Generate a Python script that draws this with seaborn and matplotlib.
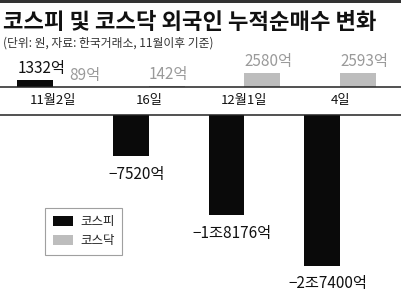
import matplotlib
matplotlib.use("Agg")
import matplotlib.pyplot as plt
import seaborn as sns
import pandas as pd
from matplotlib.patches import Rectangle

# ---- data ----
dates = ["11월2일", "16일", "12월1일", "4일"]
kospi = [1332, -7520, -18176, -27400]
kosdaq = [89, 142, 2580, 2593]
series_names = ["코스피", "코스닥"]
title = "코스피 및 코스닥 외국인 누적순매수 변화"
subtitle = "(단위: 원, 자료: 한국거래소, 11월이후 기준)"

sns.set_theme(style="white")
plt.rcParams["font.family"] = ["Noto Sans CJK KR", "DejaVu Sans"]

colors = {"코스피": "#0a0a0a", "코스닥": "#bdbdbd"}
label_colors = {"코스피": "#111111", "코스닥": "#9a9a9a"}

df = pd.DataFrame({
    "date": dates * 2,
    "value": kospi + kosdaq,
    "series": [series_names[0]] * len(dates) + [series_names[1]] * len(dates),
})


def fmt(v):
    a = abs(v)
    jo, eok = divmod(a, 10000)
    s = (f"{jo}조{eok}억" if jo else f"{eok}억")
    return ("−" if v < 0 else "") + s


W, H = 401, 291
fig = plt.figure(figsize=(W / 100, H / 100), dpi=100)

# layout (pixels from top)
xl = (-0.554, 3.636)
top_base, top_top = 87, 52
bot_base = 115
scale = 5.5 / 1000  # px per 억

ax_top = fig.add_axes([0, 1 - top_base / H, 1, (top_base - top_top) / H])
ax_bot = fig.add_axes([0, 0, 1, 1 - bot_base / H])

bar_w = 0.75
for ax in (ax_top, ax_bot):
    sns.barplot(data=df, x="date", y="value", hue="series", order=dates,
                hue_order=series_names, palette=colors, width=bar_w,
                dodge=True, saturation=1, legend=(ax is ax_bot), ax=ax,
                edgecolor="none")
    ax.set_xlim(*xl)
    ax.set_xlabel("")
    ax.set_ylabel("")
    ax.set_yticks([])
    for s in ax.spines.values():
        s.set_visible(False)

ax_top.set_ylim(0, (top_base - top_top) / scale)
ax_bot.set_ylim(-(H - bot_base) / scale, 0)

ax_top.spines["bottom"].set_visible(True)
ax_top.spines["bottom"].set_color("#222222")
ax_top.spines["bottom"].set_linewidth(1.1)
ax_bot.spines["top"].set_visible(True)
ax_bot.spines["top"].set_color("#222222")
ax_bot.spines["top"].set_linewidth(1.1)

ax_top.tick_params(axis="x", length=0, pad=5, labelsize=9.5, labelcolor="#111111")
ax_bot.set_xticks([])

# value labels
half = bar_w / 2
for i, v in enumerate(kospi):
    xc = i - half / 2
    if v > 0:
        ax_top.annotate(fmt(v), (xc - half / 2, v), xytext=(0, 2),
                        textcoords="offset points", ha="left", va="bottom",
                        fontsize=11, color=label_colors["코스피"])
    else:
        ax_bot.annotate(fmt(v), (xc, v), xytext=(4, -7),
                        textcoords="offset points", ha="center", va="top",
                        fontsize=11, color=label_colors["코스피"])

kosdaq_nudge = [12, 0, 0, 0]  # shift in points to avoid overlap
for i, v in enumerate(kosdaq):
    left = i
    ax_top.annotate(fmt(v), (left, v), xytext=(kosdaq_nudge[i], 2),
                    textcoords="offset points", ha="left", va="bottom",
                    fontsize=11, color=label_colors["코스닥"],
                    annotation_clip=False)

# legend
leg = ax_bot.legend(loc="upper left",
                    bbox_to_anchor=(45 / W, (H - 208) / (H - bot_base)),
                    borderaxespad=0, frameon=True, fancybox=False, fontsize=9,
                    handlelength=1.6, handleheight=0.9, borderpad=0.6,
                    labelspacing=0.45, handletextpad=0.6)
leg.get_frame().set_edgecolor("#888888")
leg.get_frame().set_linewidth(0.8)
for t in leg.get_texts():
    t.set_color("#222222")

# title, subtitle, top rule
fig.add_artist(Rectangle((0, 1 - 3 / H), 1, 3 / H, transform=fig.transFigure,
                         color="#333333", lw=0))
fig.text(3 / W, 1 - 29 / H, title, fontsize=16, fontweight="black",
         color="#111111", ha="left", va="baseline")
fig.text(3 / W, 1 - 47 / H, subtitle, fontsize=8.5, color="#333333",
         ha="left", va="baseline")

fig.savefig("out.png", dpi=100)
